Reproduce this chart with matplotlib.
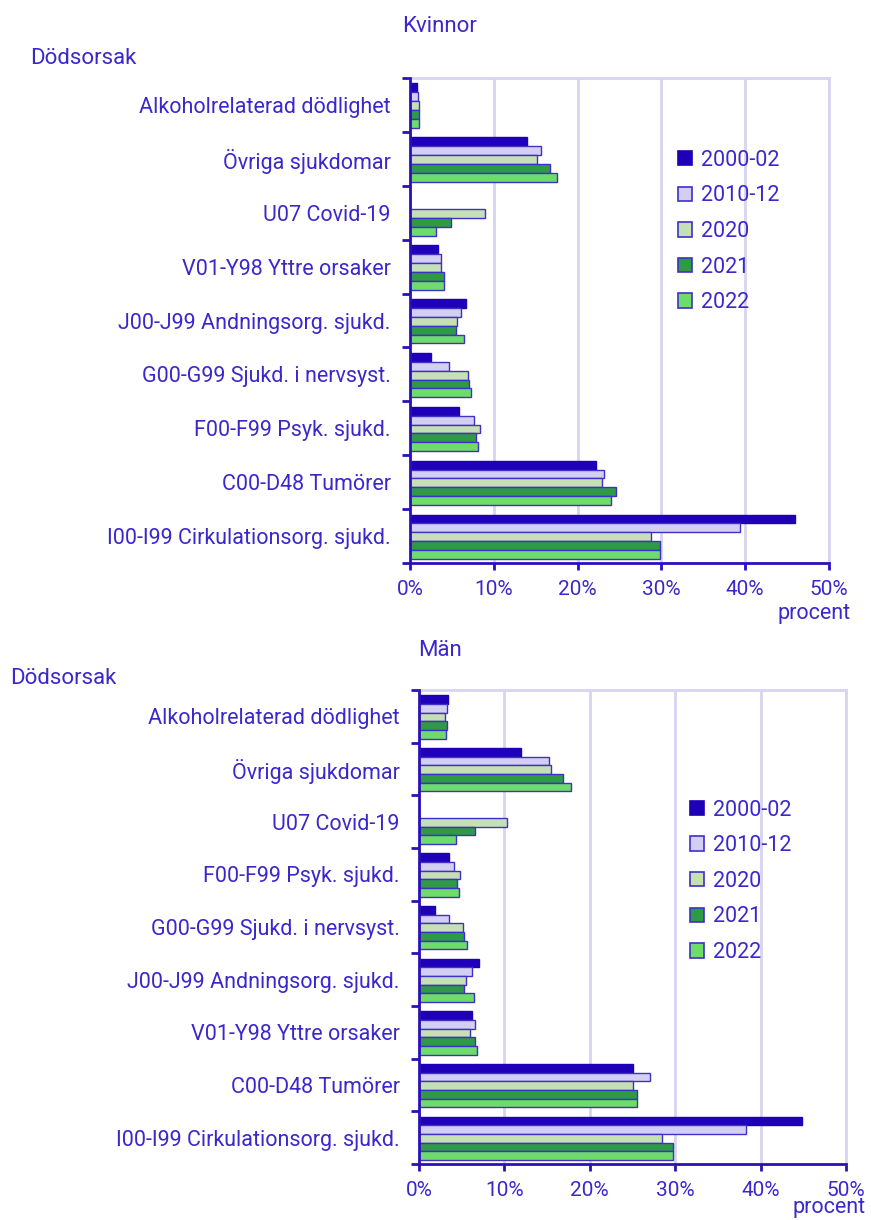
import numpy as np
import matplotlib.pyplot as plt
from matplotlib.patches import Patch

plt.rcParams['font.family'] = ['Roboto', 'DejaVu Sans']

# Data (percent of all deaths)
series = ['2000-02', '2010-12', '2020', '2021', '2022']
colors = ['#1f00b8', '#d3cff2', '#c6e0b6', '#2f9a45', '#6ddc6a']

cats_k = ['Alkoholrelaterad dödlighet', 'Övriga sjukdomar', 'U07 Covid-19',
          'V01-Y98 Yttre orsaker', 'J00-J99 Andningsorg. sjukd.',
          'G00-G99 Sjukd. i nervsyst.', 'F00-F99 Psyk. sjukd.',
          'C00-D48 Tumörer', 'I00-I99 Cirkulationsorg. sjukd.']
kv_2000 = [0.8, 14.0, 0.0, 3.4, 6.7, 2.5, 5.9, 22.2, 46.0]
kv_2010 = [0.9, 15.6, 0.0, 3.7, 6.1, 4.6, 7.6, 23.2, 39.4]
kv_2020 = [1.1, 15.1, 9.0, 3.7, 5.6, 6.9, 8.4, 22.9, 28.7]
kv_2021 = [1.1, 16.7, 4.9, 4.1, 5.5, 7.0, 7.9, 24.6, 29.8]
kv_2022 = [1.1, 17.6, 3.1, 4.0, 6.5, 7.3, 8.1, 24.0, 29.8]

cats_m = ['Alkoholrelaterad dödlighet', 'Övriga sjukdomar', 'U07 Covid-19',
          'F00-F99 Psyk. sjukd.', 'G00-G99 Sjukd. i nervsyst.',
          'J00-J99 Andningsorg. sjukd.', 'V01-Y98 Yttre orsaker',
          'C00-D48 Tumörer', 'I00-I99 Cirkulationsorg. sjukd.']
m_2000 = [3.4, 12.0, 0.0, 3.5, 1.9, 7.0, 6.2, 25.0, 44.9]
m_2010 = [3.3, 15.2, 0.0, 4.1, 3.5, 6.2, 6.5, 27.0, 38.3]
m_2020 = [3.0, 15.4, 10.3, 4.8, 5.2, 5.5, 6.0, 25.0, 28.5]
m_2021 = [3.3, 16.9, 6.6, 4.5, 5.3, 5.3, 6.5, 25.5, 29.8]
m_2022 = [3.2, 17.8, 4.3, 4.7, 5.6, 6.4, 6.8, 25.5, 29.8]

xticks = [0, 10, 20, 30, 40, 50]

TXT = '#3b28cc'
EDGE = '#3f30c8'
AXC = '#2a10bb'
GRID = '#d6d4f2'
FS = 15.5


def draw(ax, cats, vals, leg_anchor):
    n = len(cats)
    bh = 0.165
    for i, (s, c, v) in enumerate(zip(series, colors, vals)):
        y = np.arange(n) + 0.1 + bh * (i + 0.5)
        ec = c if i == 0 else EDGE
        ax.barh(y, v, height=bh, color=c, edgecolor=ec, linewidth=1.0, zorder=3)
    ax.set_ylim(n, 0)
    ax.set_xlim(0, 50)
    ax.set_yticks(np.arange(n + 1))
    ax.set_yticklabels([])
    ax.set_yticks(np.arange(n) + 0.5, minor=True)
    ax.set_yticklabels(cats, minor=True)
    ax.tick_params(axis='y', which='minor', length=0, pad=14,
                   labelsize=FS, labelcolor=TXT)
    ax.tick_params(axis='y', which='major', length=6, width=2, color=AXC)
    ax.set_xticks(xticks)
    ax.set_xticklabels([f'{t}%' for t in xticks])
    ax.tick_params(axis='x', length=5, width=2, color=AXC, labelsize=15,
                   labelcolor=TXT, pad=7)
    ax.grid(axis='x', color=GRID, linewidth=2, zorder=0)
    for s in ['top', 'right']:
        ax.spines[s].set_color(GRID)
        ax.spines[s].set_linewidth(2)
    for s in ['left', 'bottom']:
        ax.spines[s].set_color(AXC)
        ax.spines[s].set_linewidth(2)
        ax.spines[s].set_zorder(5)
    handles = [Patch(facecolor=c, edgecolor=c if i == 0 else EDGE, linewidth=1.2)
               for i, c in enumerate(colors)]
    ax.legend(handles, series, loc='upper left', bbox_to_anchor=leg_anchor,
              frameon=False, fontsize=FS, handlelength=0.65, handleheight=0.65,
              handletextpad=0.4, labelspacing=0.68, labelcolor=TXT,
              borderaxespad=0)


fig = plt.figure(figsize=(8.71, 12.2), dpi=100)

ax1 = fig.add_axes([410 / 871, 1 - 563 / 1220, 419 / 871, 485 / 1220])
draw(ax1, cats_k, [kv_2000, kv_2010, kv_2020, kv_2021, kv_2022], (0.62, 0.87))

ax2 = fig.add_axes([419 / 871, 1 - 1164 / 1220, 427 / 871, 474 / 1220])
draw(ax2, cats_m, [m_2000, m_2010, m_2020, m_2021, m_2022], (0.615, 0.787))

fig.text(440 / 871, 1 - 27 / 1220, 'Kvinnor', ha='center', va='center', fontsize=16, color=TXT)
fig.text(30 / 871, 1 - 58 / 1220, 'Dödsorsak', ha='left', va='center', fontsize=16, color=TXT)
fig.text(851 / 871, 1 - 613 / 1220, 'procent', ha='right', va='center', fontsize=15.5, color=TXT)

fig.text(440 / 871, 1 - 650 / 1220, 'Män', ha='center', va='center', fontsize=16, color=TXT)
fig.text(10 / 871, 1 - 678 / 1220, 'Dödsorsak', ha='left', va='center', fontsize=16, color=TXT)
fig.text(866 / 871, 1 - 1208 / 1220, 'procent', ha='right', va='center', fontsize=15.5, color=TXT)

fig.savefig('out.png', dpi=100, facecolor='white')
